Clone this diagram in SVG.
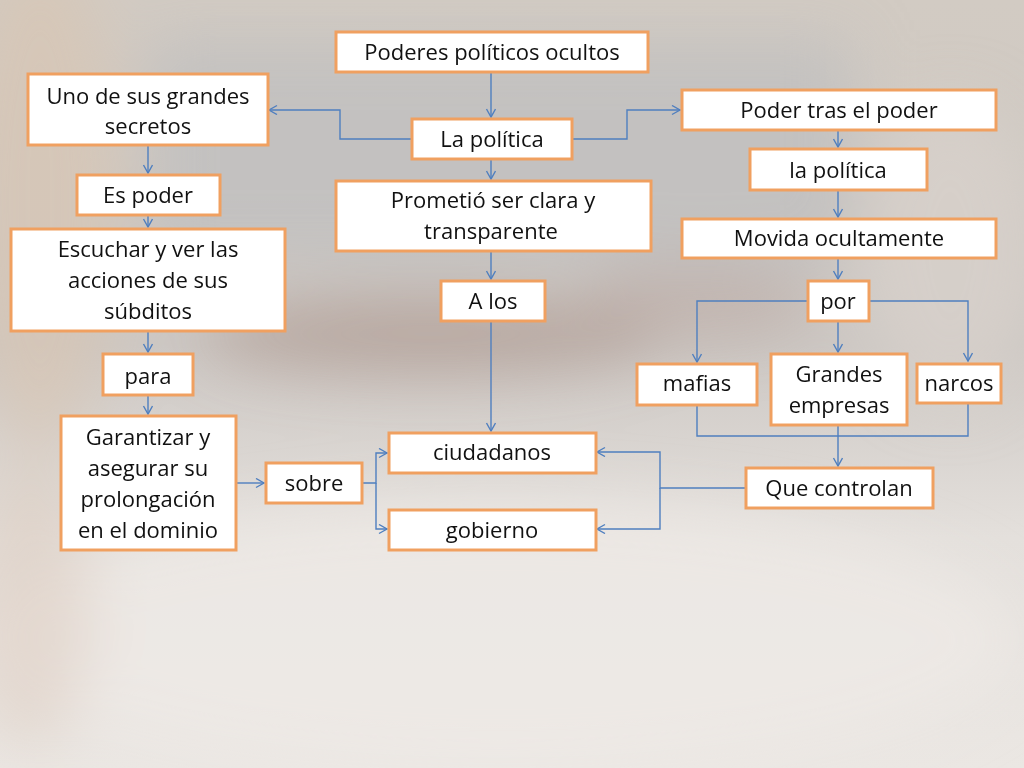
<svg xmlns="http://www.w3.org/2000/svg" width="1024" height="768" viewBox="0 0 1024 768">
<defs>
<style>
.box{fill:#ffffff;stroke:#f0a060;stroke-width:3}
.t{font-family:"Open Sans","Liberation Sans",sans-serif;font-size:22px;fill:#111;text-anchor:middle}
.c{fill:none;stroke:#4f7fbf;stroke-width:1.4}
</style>
<marker id="a" markerUnits="userSpaceOnUse" markerWidth="12" markerHeight="12" refX="9" refY="5" orient="auto">
<path d="M1,0.5 L9,5 L1,9.5" fill="none" stroke="#4f7fbf" stroke-width="1.4"/>
</marker>
<filter id="blur" x="-20%" y="-20%" width="140%" height="140%"><feGaussianBlur stdDeviation="30"/></filter>
<linearGradient id="bg" x1="0" y1="0" x2="0" y2="1">
<stop offset="0" stop-color="#d2cbc3"/>
<stop offset="0.45" stop-color="#cdc8c4"/>
<stop offset="0.7" stop-color="#e4e0dc"/>
<stop offset="1" stop-color="#ebe7e3"/>
</linearGradient>
</defs>
<g id="background">
<rect width="1024" height="768" fill="url(#bg)"/>
<g filter="url(#blur)">
<rect x="150" y="40" width="700" height="220" fill="#bdbdbf" opacity="0.7"/>
<ellipse cx="40" cy="200" rx="80" ry="250" fill="#d8c4b0" opacity="0.6"/>
<ellipse cx="430" cy="335" rx="230" ry="40" fill="#a48a80" opacity="0.5"/>
<ellipse cx="700" cy="300" rx="120" ry="40" fill="#b09890" opacity="0.4"/>
<ellipse cx="950" cy="250" rx="90" ry="150" fill="#d8d2cc" opacity="0.7"/>
<ellipse cx="500" cy="640" rx="520" ry="140" fill="#eeeae6" opacity="0.8"/>
<ellipse cx="30" cy="600" rx="60" ry="150" fill="#dccabb" opacity="0.5"/>
</g>
</g>
<g id="connectors">
<path class="c" d="M491,72 V117" marker-end="url(#a)"/>
<path class="c" d="M411,139 H340 V110 H269" marker-end="url(#a)"/>
<path class="c" d="M572,139 H627 V110 H680" marker-end="url(#a)"/>
<path class="c" d="M491,159 V179" marker-end="url(#a)"/>
<path class="c" d="M491,251 V279" marker-end="url(#a)"/>
<path class="c" d="M491,321 V431" marker-end="url(#a)"/>
<path class="c" d="M148,145 V173" marker-end="url(#a)"/>
<path class="c" d="M148,215 V227" marker-end="url(#a)"/>
<path class="c" d="M148,331 V352" marker-end="url(#a)"/>
<path class="c" d="M148,395 V414" marker-end="url(#a)"/>
<path class="c" d="M236,483 H264" marker-end="url(#a)"/>
<path class="c" d="M362,483 H376 V453 H387" marker-end="url(#a)"/>
<path class="c" d="M376,483 V529 H387" marker-end="url(#a)"/>
<path class="c" d="M838,130 V147" marker-end="url(#a)"/>
<path class="c" d="M838,190 V217" marker-end="url(#a)"/>
<path class="c" d="M838,258 V279" marker-end="url(#a)"/>
<path class="c" d="M807,301 H697 V362" marker-end="url(#a)"/>
<path class="c" d="M869,301 H968 V361" marker-end="url(#a)"/>
<path class="c" d="M838,321 V352" marker-end="url(#a)"/>
<path class="c" d="M697,405 V436 H968 V403"/>
<path class="c" d="M838,425 V466" marker-end="url(#a)"/>
<path class="c" d="M745,488 H660 V452 H597" marker-end="url(#a)"/>
<path class="c" d="M660,488 V529 H597" marker-end="url(#a)"/>
</g>
<g id="n-poderes"><rect class="box" x="336" y="32" width="312" height="40"/><text class="t" x="492" y="60">Poderes políticos ocultos</text></g>
<g id="n-lapolitica"><rect class="box" x="412" y="119" width="160" height="40"/><text class="t" x="492" y="147">La política</text></g>
<g id="n-uno"><rect class="box" x="28" y="74" width="240" height="71"/><text class="t" x="148" y="104">Uno de sus grandes</text><text class="t" x="148" y="134">secretos</text></g>
<g id="n-poder-tras"><rect class="box" x="682" y="90" width="314" height="40"/><text class="t" x="839" y="118">Poder tras el poder</text></g>
<g id="n-lapolitica2"><rect class="box" x="750" y="149" width="177" height="41"/><text class="t" x="838" y="178">la política</text></g>
<g id="n-movida"><rect class="box" x="682" y="219" width="314" height="39"/><text class="t" x="839" y="246">Movida ocultamente</text></g>
<g id="n-por"><rect class="box" x="808" y="281" width="61" height="40"/><text class="t" x="838" y="309">por</text></g>
<g id="n-mafias"><rect class="box" x="637" y="364" width="120" height="41"/><text class="t" x="697" y="391">mafias</text></g>
<g id="n-grandes"><rect class="box" x="771" y="354" width="136" height="71"/><text class="t" x="839" y="382">Grandes</text><text class="t" x="839" y="413">empresas</text></g>
<g id="n-narcos"><rect class="box" x="917" y="364" width="84" height="39"/><text class="t" x="959" y="391">narcos</text></g>
<g id="n-que"><rect class="box" x="746" y="468" width="187" height="40"/><text class="t" x="839" y="496">Que controlan</text></g>
<g id="n-prometio"><rect class="box" x="336" y="181" width="315" height="70"/><text class="t" x="493" y="208">Prometió ser clara y</text><text class="t" x="491" y="239">transparente</text></g>
<g id="n-alos"><rect class="box" x="441" y="281" width="104" height="40"/><text class="t" x="493" y="309">A los</text></g>
<g id="n-ciudadanos"><rect class="box" x="389" y="433" width="207" height="40"/><text class="t" x="492" y="460">ciudadanos</text></g>
<g id="n-gobierno"><rect class="box" x="389" y="510" width="207" height="40"/><text class="t" x="492" y="538">gobierno</text></g>
<g id="n-espoder"><rect class="box" x="77" y="175" width="143" height="40"/><text class="t" x="148" y="203">Es poder</text></g>
<g id="n-escuchar"><rect class="box" x="11" y="229" width="274" height="102"/><text class="t" x="148" y="257">Escuchar y ver las</text><text class="t" x="148" y="288">acciones de sus</text><text class="t" x="148" y="319">súbditos</text></g>
<g id="n-para"><rect class="box" x="103" y="354" width="90" height="41"/><text class="t" x="148" y="384">para</text></g>
<g id="n-garantizar"><rect class="box" x="61" y="416" width="175" height="134"/><text class="t" x="148" y="445">Garantizar y</text><text class="t" x="148" y="476">asegurar su</text><text class="t" x="148" y="507">prolongación</text><text class="t" x="148" y="538">en el dominio</text></g>
<g id="n-sobre"><rect class="box" x="266" y="463" width="96" height="40"/><text class="t" x="314" y="491">sobre</text></g>
</svg>
